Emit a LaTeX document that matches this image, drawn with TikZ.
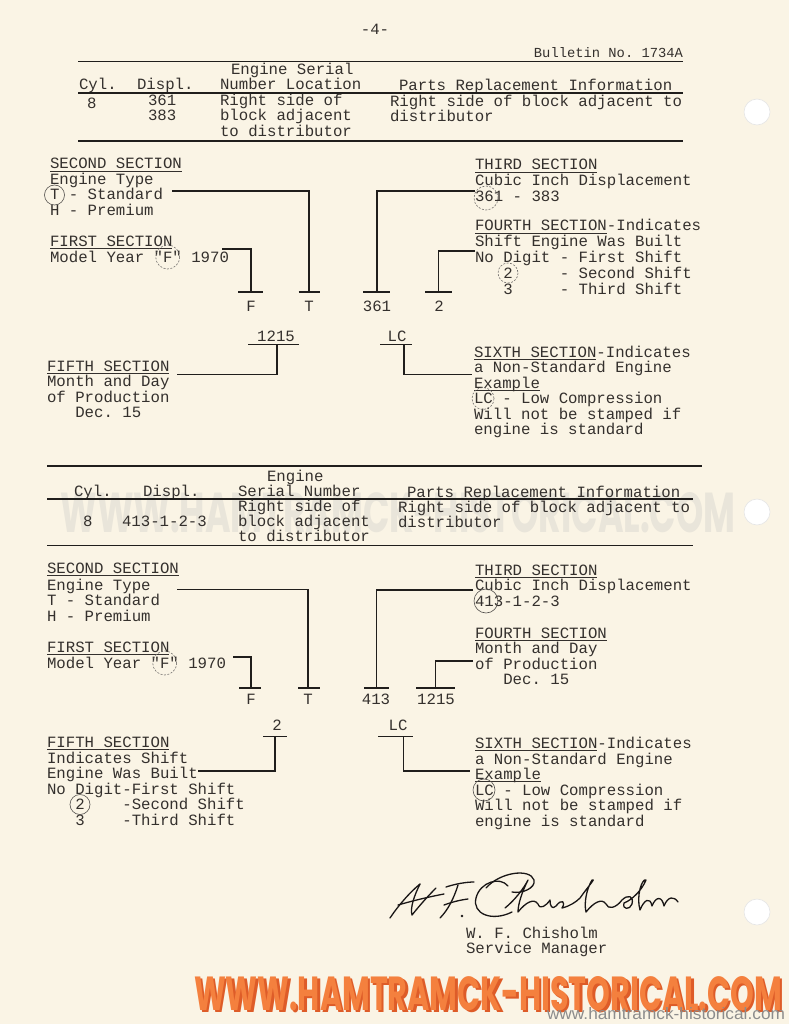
\documentclass[tikz,border=0pt]{standalone}
\usepackage{fontspec}
\usepackage{graphicx}
\setmonofont{Liberation Mono}
\setsansfont{Liberation Sans}
\newfontfamily\wmfont{Poppins}
\newcommand\tw{\fontsize{15.7}{15.5}\selectfont\ttfamily}
\newcommand\twb{\fontsize{13.8}{15.5}\selectfont\ttfamily}
\newsavebox\ulbox
\newcommand\myul[1]{\sbox\ulbox{#1}\rlap{\rule[-2.6pt]{\wd\ulbox}{1pt}}\usebox\ulbox}
\definecolor{paper}{RGB}{250,244,229}
\definecolor{ink}{RGB}{52,48,45}
\definecolor{lineink}{RGB}{32,30,28}
\definecolor{sigink}{RGB}{25,22,22}
\definecolor{wmorange}{RGB}{244,128,62}
\definecolor{wmshadow}{RGB}{222,92,40}
\definecolor{wmgray}{RGB}{233,229,218}
\begin{document}
\begin{tikzpicture}[x=1pt,y=-1pt,
  txt/.style={anchor=base west, inner sep=0pt, outer sep=0pt, font=\tw, text=ink},
  lbl/.style={anchor=base, inner sep=0pt, outer sep=0pt, font=\tw, text=ink},
  heavyrule/.style={draw=lineink, line width=1.7pt},
  thinrule/.style={draw=lineink, line width=1.1pt},
  conn/.style={draw=lineink, line width=1.2pt},
  ring/.style={draw=ink!85, line width=0.6pt},
  dring/.style={draw=ink!70, line width=0.6pt, dash pattern=on 2pt off 1.5pt},
  sig/.style={draw=sigink, line width=1.3pt, line cap=round, line join=round},
  hole/.style={fill=white, draw=black!10, line width=0.6pt}]
\useasboundingbox (0,0) rectangle (789,1024);
\fill[paper] (0,0) rectangle (789,1024);

% faint middle watermark
\node[inner sep=0pt, text=wmgray] (wmmid) at (398,513) {\resizebox{675pt}{40pt}{\wmfont\bfseries WWW.HAMTRAMCK-HISTORICAL.COM}};

% punch holes
\fill[hole] (757,112) circle (13);
\fill[hole] (757,512) circle (13);
\fill[hole] (757,912) circle (13);

% ---------- header ----------
\node[lbl] (page) at (375,35) {-4-};
\node[txt, anchor=base east, font=\twb] (bull) at (683,58) {Bulletin No. 1734A};
\draw[heavyrule] (78,61.5) -- (683,61.5);

% ---------- table 1 ----------
\node[txt] (h1a) at (231,75) {Engine Serial};
\node[txt] (h1b) at (79,90) {Cyl.};
\node[txt] (h1c) at (137,90) {Displ.};
\node[txt] (h1d) at (220,90) {Number Location};
\node[txt] (h1e) at (399,91) {Parts Replacement Information};
\draw[thinrule] (78,93) -- (683,93);
\node[txt] (r1a) at (87,109) {8};
\node[txt] (r1b) at (148,106) {361};
\node[txt] (r1c) at (148,121) {383};
\node[txt] (r1d) at (220,106) {Right side of};
\node[txt] (r1e) at (220,121) {block adjacent};
\node[txt] (r1f) at (220,136.5) {to distributor};
\node[txt] (r1g) at (390,107) {Right side of block adjacent to};
\node[txt] (r1h) at (390,122) {distributor};
\draw[heavyrule] (78,141) -- (683,141);

% ---------- diagram 1 ----------
\node[txt] (a2a) at (50,169) {\myul{SECOND SECTION}};
\node[txt] (a2b) at (50,185) {Engine Type};
\node[txt] (a2c) at (50,200) {T - Standard};
\node[txt] (a2d) at (50,215.5) {H - Premium};
\draw[ring] (54.5,195) circle (10);
\node[txt] (a1a) at (50,246) {\myul{FIRST SECTION}};
\node[txt] (a1b) at (50,262) {Model Year "F" 1970};
\draw[dring] (167.7,257) circle (12);
\node[txt] (a3a) at (475,170) {\myul{THIRD SECTION}};
\node[txt] (a3b) at (475,186) {Cubic Inch Displacement};
\node[txt] (a3c) at (475,202) {361 - 383};
\draw[dring] (486,198) circle (12);
\node[txt] (a4a) at (475,231) {\myul{FOURTH SECTION}-Indicates};
\node[txt] (a4b) at (475,247) {Shift Engine Was Built};
\node[txt] (a4c) at (475,262.5) {No Digit - First Shift};
\node[txt] (a4d) at (475,278) {~~~2~~~~~- Second Shift};
\node[txt] (a4e) at (475,294) {~~~3~~~~~- Third Shift};
\draw[dring] (508,273) circle (10);

\node[lbl] (lF1) at (251,311) {F};
\node[lbl] (lT1) at (309,311) {T};
\node[lbl] (l31) at (377,311) {361};
\node[lbl] (l41) at (439,311) {2};
\coordinate (cT1) at (172,191);  \coordinate (kT1) at (309,292);
\coordinate (cF1) at (222,249);  \coordinate (kF1) at (251,292);
\coordinate (c31) at (475,191);  \coordinate (k31) at (377,292);
\coordinate (c41) at (475,251);  \coordinate (k41) at (438.5,292);
\draw[conn] (cT1) -| (kT1);
\draw[conn] ([xshift=-10.5pt]kT1) -- ([xshift=11pt]kT1);
\draw[conn] (cF1) -| (kF1);
\draw[conn] ([xshift=-13pt]kF1) -- ([xshift=12pt]kF1);
\draw[conn] (c31) -| (k31);
\draw[conn] ([xshift=-14pt]k31) -- ([xshift=13pt]k31);
\draw[conn] (c41) -| (k41);
\draw[conn] ([xshift=-13.5pt]k41) -- ([xshift=13.5pt]k41);

\node[lbl] (l51) at (276,341) {1215};
\node[lbl] (l61) at (397,341) {LC};
\coordinate (k51) at (277,344.5); \coordinate (c51) at (177,374.5);
\coordinate (k61) at (404,344.5); \coordinate (c61) at (472,374.5);
\draw[conn] (k51) |- (c51);
\draw[conn] ([xshift=-29pt]k51) -- ([xshift=22pt]k51);
\draw[conn] (k61) |- (c61);
\draw[conn] ([xshift=-24pt]k61) -- ([xshift=8pt]k61);

\node[txt] (a5a) at (47,371) {\myul{FIFTH SECTION}};
\node[txt] (a5b) at (47,386.5) {Month and Day};
\node[txt] (a5c) at (47,402) {of Production};
\node[txt] (a5d) at (47,417.5) {~~~Dec. 15};

\node[txt] (a6a) at (474,357) {\myul{SIXTH SECTION}-Indicates};
\node[txt] (a6b) at (474,372.5) {a Non-Standard Engine};
\node[txt] (a6c) at (474,388) {\myul{Example}};
\node[txt] (a6d) at (474,403.5) {LC - Low Compression};
\node[txt] (a6e) at (474,419) {Will not be stamped if};
\node[txt] (a6f) at (474,434.5) {engine is standard};
\draw[dring] (483,398.5) circle (11);

% ---------- table 2 ----------
\draw[thinrule] (47,466) -- (702,466);
\node[txt] (h2a) at (267,481) {Engine};
\node[txt] (h2b) at (74,496) {Cyl.};
\node[txt] (h2c) at (143,496) {Displ.};
\node[txt] (h2d) at (238,496) {Serial Number};
\node[txt] (h2e) at (407,497) {Parts Replacement Information};
\draw[thinrule] (47,499) -- (693,499);
\node[txt] (r2a) at (83,526) {8};
\node[txt] (r2b) at (122,526) {413-1-2-3};
\node[txt] (r2c) at (238,511) {Right side of};
\node[txt] (r2d) at (238,526) {block adjacent};
\node[txt] (r2e) at (238,541) {to distributor};
\node[txt] (r2f) at (398,512) {Right side of block adjacent to};
\node[txt] (r2g) at (398,527) {distributor};
\draw[thinrule] (47,545.5) -- (693,545.5);

% ---------- diagram 2 ----------
\node[txt] (b2a) at (47,573) {\myul{SECOND SECTION}};
\node[txt] (b2b) at (47,590) {Engine Type};
\node[txt] (b2c) at (47,605.5) {T - Standard};
\node[txt] (b2d) at (47,621) {H - Premium};
\node[txt] (b1a) at (47,652) {\myul{FIRST SECTION}};
\node[txt] (b1b) at (47,668) {Model Year "F" 1970};
\draw[dring] (164.7,663) circle (12);
\node[txt] (b3a) at (475,575) {\myul{THIRD SECTION}};
\node[txt] (b3b) at (475,590.5) {Cubic Inch Displacement};
\node[txt] (b3c) at (475,606) {413-1-2-3};
\draw[ring] (486,601) circle (12);
\node[txt] (b4a) at (475,638) {\myul{FOURTH SECTION}};
\node[txt] (b4b) at (475,653.5) {Month and Day};
\node[txt] (b4c) at (475,669) {of Production};
\node[txt] (b4d) at (475,684.5) {~~~Dec. 15};

\node[lbl] (lF2) at (251,704) {F};
\node[lbl] (lT2) at (308,704) {T};
\node[lbl] (l32) at (376,704) {413};
\node[lbl] (l42) at (436,704) {1215};
\coordinate (cT2) at (177,589.5); \coordinate (kT2) at (308,688);
\coordinate (cF2) at (233,657);   \coordinate (kF2) at (251,688);
\coordinate (c32) at (473,590);   \coordinate (k32) at (376.5,688);
\coordinate (c42) at (473,661);   \coordinate (k42) at (435.5,688);
\draw[conn] (cT2) -| (kT2);
\draw[conn] ([xshift=-10pt]kT2) -- ([xshift=12pt]kT2);
\draw[conn] (cF2) -| (kF2);
\draw[conn] ([xshift=-12pt]kF2) -- ([xshift=10pt]kF2);
\draw[conn] (c32) -| (k32);
\draw[conn] ([xshift=-12.5pt]k32) -- ([xshift=12.5pt]k32);
\draw[conn] (c42) -| (k42);
\draw[conn] ([xshift=-19.5pt]k42) -- ([xshift=19.5pt]k42);

\node[lbl] (l52) at (277,730) {2};
\node[lbl] (l62) at (398,730) {LC};
\coordinate (k52) at (275,736.5); \coordinate (c52) at (198,771);
\coordinate (k62) at (403.5,736.5); \coordinate (c62) at (470,771);
\draw[conn] (k52) |- (c52);
\draw[conn] ([xshift=-12pt]k52) -- ([xshift=12pt]k52);
\draw[conn] (k62) |- (c62);
\draw[conn] ([xshift=-25.5pt]k62) -- ([xshift=9.5pt]k62);

\node[txt] (b5a) at (47,747) {\myul{FIFTH SECTION}};
\node[txt] (b5b) at (47,763) {Indicates Shift};
\node[txt] (b5c) at (47,778) {Engine Was Built};
\node[txt] (b5d) at (47,794) {No Digit-First Shift};
\node[txt] (b5e) at (47,809.5) {~~~2~~~~-Second Shift};
\node[txt] (b5f) at (47,825) {~~~3~~~~-Third Shift};
\draw[ring] (80,804.5) circle (10);

\node[txt] (b6a) at (475,748) {\myul{SIXTH SECTION}-Indicates};
\node[txt] (b6b) at (475,764) {a Non-Standard Engine};
\node[txt] (b6c) at (475,779) {\myul{Example}};
\node[txt] (b6d) at (475,795) {LC - Low Compression};
\node[txt] (b6e) at (475,810.5) {Will not be stamped if};
\node[txt] (b6f) at (475,826) {engine is standard};
\draw[ring] (484,790) circle (11);

% ---------- signature ----------
\draw[sig] (390,918) .. controls (398,906) and (410,892) .. (420,884);
\draw[sig] (420,884) .. controls (414,896) and (410,908) .. (412,915) .. controls (420,905) and (428,896) .. (436,888);
\draw[sig] (398,905) .. controls (412,901) and (428,897) .. (444,894);
\draw[sig] (446,887) .. controls (455,884) and (466,882) .. (474,882);
\draw[sig] (458,885) .. controls (454,898) and (448,910) .. (440,918);
\draw[sig] (444,905) .. controls (452,902) and (460,900) .. (468,899);
\fill[sigink] (462,916) circle (1.4);
\draw[sig] (508,886) .. controls (500,876) and (480,882) .. (476,898) .. controls (472,914) and (492,922) .. (512,912);
\draw[sig] (486,888) .. controls (500,872) and (530,868) .. (534,880) .. controls (536,888) and (522,894) .. (512,892);
\draw[sig] (505,908) .. controls (515,900) and (524,888) .. (528,880)
  .. controls (522,892) and (518,904) .. (518,912)
  .. controls (526,902) and (534,898) .. (538,904)
  .. controls (540,910) and (546,906) .. (550,900)
  .. controls (550,906) and (552,910) .. (556,906)
  .. controls (562,898) and (566,902) .. (562,908)
  .. controls (570,906) and (576,902) .. (580,898)
  .. controls (590,884) and (596,878) .. (592,880)
  .. controls (586,890) and (584,904) .. (586,912)
  .. controls (594,902) and (602,898) .. (606,904)
  .. controls (608,910) and (616,908) .. (622,900)
  .. controls (628,894) and (634,896) .. (632,904)
  .. controls (630,910) and (622,910) .. (624,903)
  .. controls (632,900) and (642,890) .. (646,880)
  .. controls (642,878) and (636,896) .. (640,910)
  .. controls (644,900) and (650,896) .. (652,906)
  .. controls (656,896) and (662,896) .. (664,906)
  .. controls (668,896) and (674,896) .. (678,902);
\node[txt] (name) at (466,938) {W. F. Chisholm};
\node[txt] (title) at (466,953) {Service Manager};

% ---------- bottom watermark ----------
\node[inner sep=0pt, text=wmshadow] (wmsh) at (490.5,996) {\resizebox{588pt}{34pt}{\wmfont\bfseries WWW.HAMTRAMCK-HISTORICAL.COM}};
\node[inner sep=0pt, text=wmorange] (wmtop) at (488,993.5) {\resizebox{588pt}{34pt}{\wmfont\bfseries WWW.HAMTRAMCK-HISTORICAL.COM}};
\node[inner sep=0pt, text=black!45] (wmsmall) at (666,1014) {\resizebox{238pt}{12pt}{\sffamily www.hamtramck-historical.com}};
\end{tikzpicture}
\end{document}
